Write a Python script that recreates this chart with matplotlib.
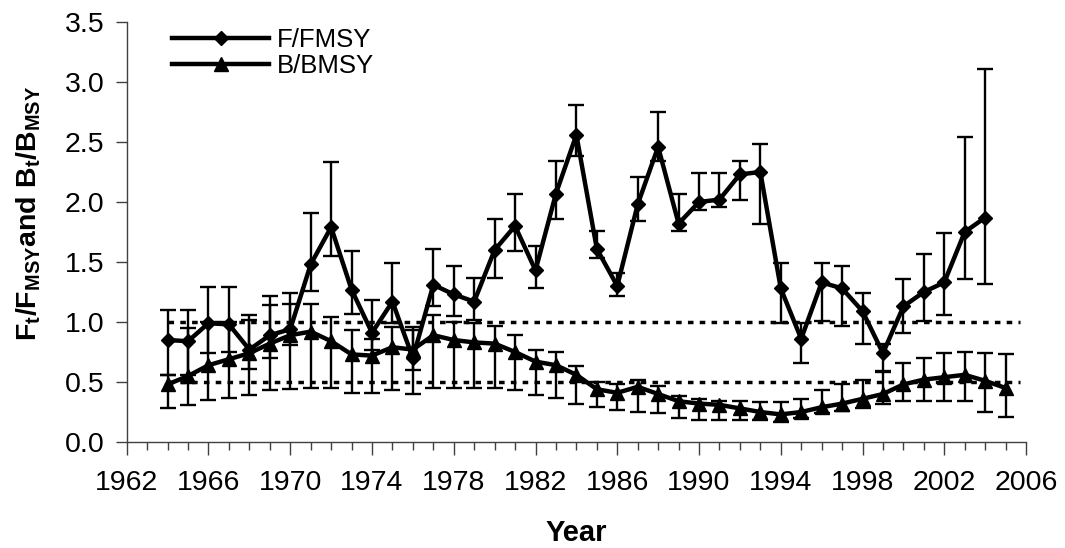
import matplotlib
matplotlib.use("Agg")
import matplotlib.pyplot as plt
from matplotlib.ticker import FixedLocator, MultipleLocator, FormatStrFormatter
from matplotlib.lines import Line2D
import numpy as np

plt.rcParams['font.family'] = ['Liberation Sans', 'DejaVu Sans']
plt.rcParams['mathtext.fontset'] = 'custom'
plt.rcParams['mathtext.rm'] = 'Liberation Sans'
plt.rcParams['mathtext.bf'] = 'Liberation Sans:bold'
plt.rcParams['mathtext.it'] = 'Liberation Sans:italic'

# Fishing mortality ratio F/FMSY with confidence limits, 1964-2004
f_years = list(range(1964, 2005))
f_ratio = [0.85, 0.84, 0.99, 0.98, 0.77, 0.89, 0.94, 1.48, 1.79, 1.27,
           0.91, 1.17, 0.70, 1.31, 1.23, 1.17, 1.60, 1.80, 1.43, 2.07,
           2.56, 1.61, 1.30, 1.98, 2.46, 1.82, 2.00, 2.02, 2.23, 2.25,
           1.28, 0.86, 1.33, 1.28, 1.09, 0.74, 1.13, 1.25, 1.33, 1.75,
           1.87]
f_low = [0.56, 0.56, 0.74, 0.75, 0.61, 0.70, 0.81, 1.26, 1.55, 1.07,
         0.77, 0.99, 0.60, 1.13, 1.05, 1.02, 1.37, 1.59, 1.28, 1.86,
         2.38, 1.53, 1.22, 1.84, 2.34, 1.76, 1.93, 1.96, 2.02, 1.82,
         0.99, 0.66, 1.01, 0.97, 0.82, 0.58, 0.91, 1.01, 1.06, 1.36,
         1.32]
f_high = [1.10, 1.10, 1.29, 1.29, 1.06, 1.22, 1.24, 1.91, 2.33, 1.59,
          1.18, 1.49, 0.96, 1.61, 1.47, 1.37, 1.86, 2.07, 1.63, 2.34,
          2.81, 1.76, 1.41, 2.21, 2.75, 2.07, 2.24, 2.24, 2.34, 2.48,
          1.49, 0.99, 1.49, 1.47, 1.24, 0.82, 1.36, 1.57, 1.74, 2.54,
          3.11]

# Biomass ratio B/BMSY with confidence limits, 1964-2005
b_years = list(range(1964, 2006))
b_ratio = [0.48, 0.55, 0.64, 0.69, 0.74, 0.82, 0.89, 0.92, 0.84, 0.73,
           0.72, 0.79, 0.77, 0.89, 0.85, 0.83, 0.82, 0.75, 0.67, 0.64,
           0.56, 0.44, 0.41, 0.46, 0.40, 0.34, 0.32, 0.31, 0.28, 0.25,
           0.23, 0.25, 0.29, 0.32, 0.36, 0.40, 0.48, 0.52, 0.54, 0.56,
           0.51, 0.45]
b_low = [0.28, 0.31, 0.35, 0.37, 0.39, 0.43, 0.44, 0.45, 0.45, 0.41,
         0.41, 0.43, 0.40, 0.45, 0.45, 0.45, 0.45, 0.43, 0.39, 0.37,
         0.32, 0.29, 0.27, 0.25, 0.24, 0.20, 0.18, 0.18, 0.18, 0.18,
         0.17, 0.20, 0.24, 0.26, 0.28, 0.32, 0.34, 0.34, 0.34, 0.34,
         0.25, 0.21]
b_high = [0.56, 0.95, 1.00, 1.00, 1.02, 1.14, 1.15, 1.15, 1.04, 0.93,
          0.86, 0.96, 0.93, 1.06, 1.00, 0.99, 0.97, 0.89, 0.77, 0.75,
          0.63, 0.50, 0.48, 0.52, 0.47, 0.38, 0.36, 0.34, 0.34, 0.33,
          0.33, 0.36, 0.43, 0.48, 0.52, 0.59, 0.66, 0.70, 0.74, 0.75,
          0.74, 0.73]

# Reference levels
ref_levels = [1.0, 0.5]

# Year axis labels
year_ticks = list(range(1962, 2007, 4))

fig = plt.figure(figsize=(10.65, 5.48), dpi=100)
ax = fig.add_axes([0.119, 0.1934, 0.8444, 0.7665])

f_arr = np.array(f_ratio)
b_arr = np.array(b_ratio)

for lvl in ref_levels:
    ax.hlines(lvl, 1964, 2005.7, colors='black', linestyles=(0, (1.6, 1.8)),
              linewidth=2.5, zorder=1)

ax.errorbar(f_years, f_arr, yerr=[f_arr - np.array(f_low), np.array(f_high) - f_arr],
            fmt='none', ecolor='black', elinewidth=1.7, capsize=5.8, capthick=1.7, zorder=2)
ax.errorbar(b_years, b_arr, yerr=[b_arr - np.array(b_low), np.array(b_high) - b_arr],
            fmt='none', ecolor='black', elinewidth=1.7, capsize=5.8, capthick=1.7, zorder=2)

ax.plot(f_years, f_arr, color='black', linewidth=3.2, marker='D', markersize=7.5, zorder=3)
ax.plot(b_years, b_arr, color='black', linewidth=3.2, marker='^', markersize=10.5, zorder=3)

ax.set_xlim(1962, 2006)
ax.set_ylim(0, 3.5)
ax.xaxis.set_major_locator(FixedLocator(year_ticks))
ax.xaxis.set_minor_locator(MultipleLocator(1))
ax.yaxis.set_major_locator(MultipleLocator(0.5))
ax.yaxis.set_major_formatter(FormatStrFormatter('%.1f'))

for side in ('top', 'right'):
    ax.spines[side].set_visible(False)
for side in ('left', 'bottom'):
    ax.spines[side].set_color('#404040')
    ax.spines[side].set_linewidth(1.0)

ax.tick_params(axis='x', which='major', direction='out', length=9, width=1,
               color='#404040', labelsize=20.5, pad=11)
ax.tick_params(axis='x', which='minor', direction='out', length=6, width=1, color='#404040')
ax.tick_params(axis='y', which='major', direction='out', length=8, width=1,
               color='#404040', labelsize=20.5, pad=8)

ax.set_xlabel('Year', fontsize=21, fontweight='bold', labelpad=17)
ax.set_ylabel(r'$\mathbf{F_t/F_{MSY}}$and $\mathbf{B_t/B_{MSY}}$',
              fontsize=20.5, fontweight='bold')
ax.yaxis.set_label_coords(-0.093, 0.545)

handles = [Line2D([], [], color='black', linewidth=3.2, marker='D', markersize=7.5),
           Line2D([], [], color='black', linewidth=3.2, marker='^', markersize=10.5)]
ax.legend(handles, ['F/FMSY', 'B/BMSY'], loc='upper left', bbox_to_anchor=(0.05, 0.986),
          frameon=False, fontsize=18.5, handlelength=3.8, handletextpad=0.3,
          labelspacing=0.07, borderpad=0, borderaxespad=0, numpoints=1)

fig.savefig('out.png', dpi=100)
